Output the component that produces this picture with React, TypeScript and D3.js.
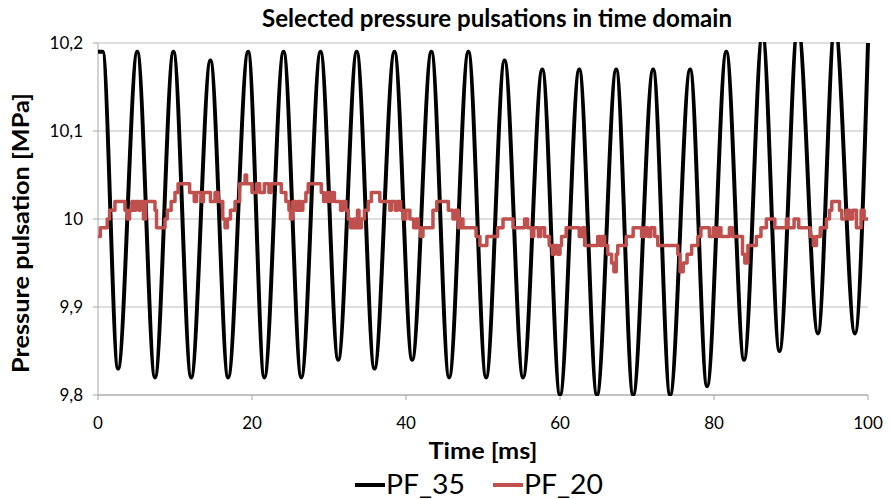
import React from "react";
import * as d3 from "d3";

// PF_35: turning points of the pulsation (time in ms, pressure in MPa)
const pf35Times = [
  0, 0.6, 2.6, 5.1, 7.4, 9.8, 12.1, 14.6, 16.9, 19.5, 21.6, 24.1, 26.4, 28.9,
  31.2, 33.6, 35.9, 38.5, 40.8, 43.3, 45.6, 48.1, 50.4, 52.8, 55.2, 57.7, 60.0,
  62.5, 64.8, 67.3, 69.5, 72.1, 74.3, 76.9, 79.1, 81.6, 83.9, 86.3, 88.5, 90.9,
  93.5, 95.7, 98.3, 100,
];
const pf35Values = [
  10.19, 10.19, 9.83, 10.19, 9.82, 10.19, 9.82, 10.18, 9.82, 10.19, 9.82, 10.19,
  9.82, 10.19, 9.84, 10.19, 9.83, 10.19, 9.84, 10.19, 9.82, 10.19, 9.82, 10.18,
  9.82, 10.17, 9.8, 10.17, 9.8, 10.17, 9.8, 10.17, 9.8, 10.17, 9.81, 10.19, 9.84,
  10.21, 9.85, 10.22, 9.87, 10.22, 9.87, 10.2,
];

// PF_20: level changes of the stepped signal
const pf20Times = [
  0, 0.3, 1.2, 1.5, 2.2, 3.5, 3.8, 4.1, 4.4, 4.7, 4.9, 5.3, 5.5, 5.9, 6.2, 7.4,
  7.6, 8.7, 9.0, 9.5, 10.0, 10.4, 11.9, 12.5, 12.8, 13.4, 13.7, 14.6, 15.2, 15.6,
  16.2, 16.5, 16.8, 17.2, 17.8, 18.4, 19.1, 19.3, 20.0, 20.6, 21.0, 21.6, 22.2,
  22.5, 23.8, 24.4, 24.8, 25.0, 25.3, 25.7, 26.0, 26.3, 26.6, 27.0, 27.3, 29.0,
  29.3, 29.7, 30.0, 30.4, 30.7, 31.5, 31.8, 32.2, 32.5, 32.8, 33.2, 33.4, 33.7,
  33.9, 34.2, 34.6, 35.1, 35.5, 36.6, 37.9, 38.1, 38.6, 38.9, 39.3, 39.6, 40.0,
  40.5, 41.0, 41.3, 41.6, 41.9, 42.2, 43.5, 44.0, 45.5, 46.1, 46.4, 46.8, 47.1,
  47.4, 49.1, 49.6, 50.5, 51.9, 52.6, 53.9, 55.4, 55.8, 56.3, 56.6, 57.2, 57.5,
  58.0, 58.6, 59.0, 59.3, 59.7, 60.0, 60.2, 60.8, 62.5, 62.9, 63.2, 64.9, 65.2,
  65.5, 65.8, 66.2, 66.7, 67.0, 67.3, 67.5, 68.6, 69.5, 70.6, 71.0, 71.4, 71.8,
  72.3, 72.7, 75.3, 75.6, 76.0, 76.5, 77.1, 77.9, 78.3, 79.4, 79.9, 80.2, 80.6,
  80.9, 82.0, 82.4, 83.7, 84.0, 84.4, 85.5, 86.1, 86.8, 87.9, 89.4, 89.6, 90.4,
  91.0, 92.5, 92.9, 93.3, 93.8, 94.6, 95.0, 95.3, 96.3, 96.6, 97.2, 97.6, 98.0,
  98.5, 99.1, 99.5, 100,
];
const pf20Values = [
  9.98, 9.99, 10.0, 10.01, 10.02, 10.01, 10.0, 10.01, 10.02, 10.01, 10.02, 10.01,
  10.02, 10.0, 10.02, 10.01, 9.99, 10.0, 10.01, 10.02, 10.03, 10.04, 10.03, 10.02,
  10.03, 10.02, 10.03, 10.02, 10.03, 10.02, 10.0, 9.99, 10.0, 10.01, 10.02, 10.04,
  10.05, 10.04, 10.03, 10.04, 10.03, 10.04, 10.03, 10.04, 10.03, 10.02, 10.01,
  10.0, 10.02, 10.01, 10.02, 10.01, 10.02, 10.03, 10.04, 10.03, 10.02, 10.03,
  10.02, 10.03, 10.02, 10.01, 10.02, 10.01, 10.0, 9.99, 10.0, 9.99, 10.01, 9.99,
  10.0, 10.01, 10.02, 10.03, 10.02, 10.01, 10.02, 10.01, 10.02, 10.01, 10.0,
  10.01, 10.0, 9.99, 10.0, 9.99, 9.98, 9.99, 10.01, 10.02, 10.01, 10.0, 10.01,
  9.99, 10.0, 9.99, 9.98, 9.97, 9.98, 9.99, 10.0, 9.99, 10.0, 9.99, 9.98, 9.99,
  9.98, 9.99, 9.98, 9.97, 9.96, 9.97, 9.96, 9.97, 9.98, 9.99, 9.98, 9.99, 9.97,
  9.98, 9.97, 9.98, 9.97, 9.96, 9.95, 9.94, 9.96, 9.97, 9.98, 9.99, 9.98, 9.99,
  9.98, 9.99, 9.98, 9.97, 9.96, 9.94, 9.95, 9.96, 9.97, 9.98, 9.99, 9.98, 9.99,
  9.98, 9.99, 9.98, 9.99, 9.98, 9.96, 9.95, 9.97, 9.98, 9.99, 10.0, 9.99, 10.0,
  9.99, 10.0, 9.99, 9.98, 9.97, 9.98, 9.99, 10.0, 10.01, 10.02, 10.01, 10.0,
  10.01, 10.0, 10.01, 9.99, 10.01, 10.0, 10.0,
];

const xTicks = [0, 20, 40, 60, 80, 100];
const yTicks = [9.8, 9.9, 10.0, 10.1, 10.2];
const yTickLabels = ["9,8", "9,9", "10", "10,1", "10,2"];
const seriesNames = ["PF_35", "PF_20"];

const W = 890;
const H = 499;
const margin = { top: 43, right: 22, bottom: 104, left: 98 };
const font = "Lato, 'Open Sans', sans-serif";

export default function App() {
  const iw = W - margin.left - margin.right;
  const ih = H - margin.top - margin.bottom;

  const x = d3.scaleLinear().domain([0, 100]).range([0, iw]);
  const y = d3.scaleLinear().domain([9.8, 10.2]).range([ih, 0]);

  const pf35 = pf35Times.map((t, i) => [t, pf35Values[i]] as [number, number]);
  const pf20 = pf20Times.map((t, i) => [t, pf20Values[i]] as [number, number]);

  const smooth = d3
    .line<[number, number]>()
    .x((d) => x(d[0]))
    .y((d) => y(d[1]))
    .curve(d3.curveMonotoneX);
  const steps = d3
    .line<[number, number]>()
    .x((d) => x(d[0]))
    .y((d) => y(d[1]))
    .curve(d3.curveStepAfter);

  const axisColor = "#a6a6a6";
  const colors = ["#000000", "#c0504d"];

  return (
    <svg
      width={W}
      height={H}
      style={{ position: "absolute", left: 0, top: 0, background: "#fff" }}
      fontFamily={font}
    >
      <defs>
        <clipPath id="plot">
          <rect x={0} y={-1} width={iw + 2} height={ih + 2} />
        </clipPath>
      </defs>
      <text
        x={497}
        y={27}
        textAnchor="middle"
        fontSize={25}
        fontWeight="bold"
        textLength={470}
        lengthAdjust="spacingAndGlyphs"
      >
        Selected pressure pulsations in time domain
      </text>
      <g transform={`translate(${margin.left},${margin.top})`}>
        {/* gridlines */}
        {yTicks.map((v) => (
          <line key={v} x1={0} x2={iw} y1={y(v)} y2={y(v)} stroke="#bfbfbf" strokeWidth={1} />
        ))}
        {/* axes */}
        <line x1={0} x2={0} y1={0} y2={ih} stroke={axisColor} />
        <line x1={0} x2={iw} y1={ih} y2={ih} stroke={axisColor} />
        {yTicks.map((v, i) => (
          <g key={v}>
            <line x1={-5} x2={0} y1={y(v)} y2={y(v)} stroke={axisColor} />
            <text x={-15} y={y(v)} dy="0.35em" textAnchor="end" fontSize={17} fill="#000">
              {yTickLabels[i]}
            </text>
          </g>
        ))}
        {xTicks.map((v) => (
          <g key={v}>
            <line x1={x(v)} x2={x(v)} y1={ih} y2={ih + 5} stroke={axisColor} />
            <text x={x(v)} y={ih + 34} textAnchor="middle" fontSize={17} fill="#000">
              {v}
            </text>
          </g>
        ))}
        {/* series */}
        <g clipPath="url(#plot)">
          <path d={smooth(pf35) ?? ""} fill="none" stroke={colors[0]} strokeWidth={4} strokeLinejoin="round" />
          <path d={steps(pf20) ?? ""} fill="none" stroke={colors[1]} strokeWidth={3.5} strokeLinejoin="round" />
        </g>
        {/* axis titles */}
        <text
          x={iw / 2}
          y={ih + 64}
          textAnchor="middle"
          fontSize={23}
          fontWeight="bold"
          textLength={109}
          lengthAdjust="spacingAndGlyphs"
        >
          Time [ms]
        </text>
        <text
          transform={`translate(${-margin.left + 29},${ih / 2 + 14}) rotate(-90)`}
          textAnchor="middle"
          fontSize={23}
          fontWeight="bold"
          textLength={280}
          lengthAdjust="spacingAndGlyphs"
        >
          Pressure pulsation  [MPa]
        </text>
      </g>
      {/* legend */}
      {seriesNames.map((name, i) => (
        <g key={name} transform={`translate(${355 + i * 138},485)`}>
          <line x1={0} x2={30} y1={0} y2={0} stroke={colors[i]} strokeWidth={4} />
          <text
            x={31}
            y={9}
            fontSize={26}
            fill="#000"
            textLength={79}
            lengthAdjust="spacingAndGlyphs"
          >
            {name}
          </text>
        </g>
      ))}
    </svg>
  );
}
